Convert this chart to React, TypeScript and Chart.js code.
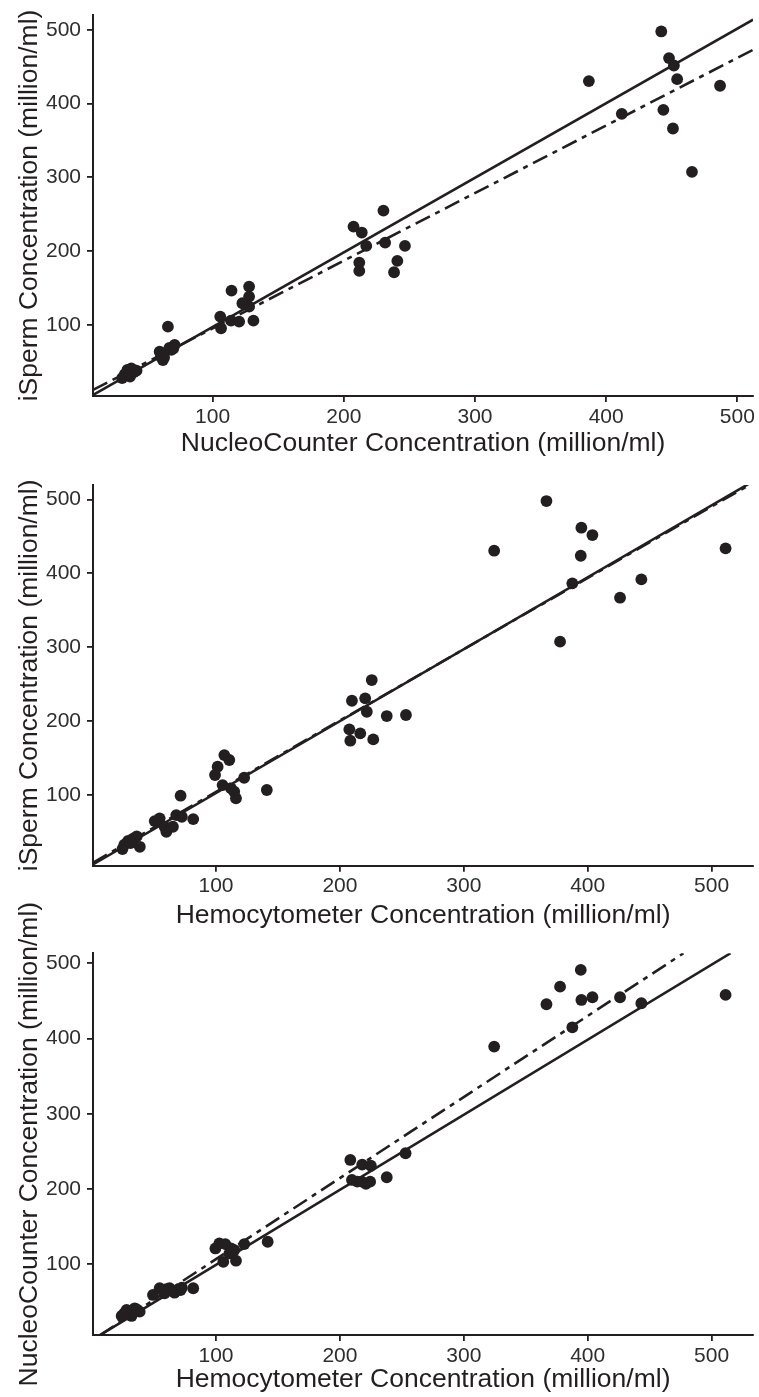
import React, { useEffect, useRef } from "react";
import { Chart, registerables } from "chart.js";

Chart.register(...registerables);

// ---------- Panel 1: NucleoCounter (x) vs iSperm (y) ----------
const p1NucleoCounter = [
  31, 33, 35, 38, 40, 42, 37,
  59.6, 60.5, 62.1, 63, 65.9, 67, 68.5, 70, 71,
  114.4, 127.8, 127.8, 122.7, 127.8, 105.8, 106.4, 114, 120.2, 131.1,
  230.2, 207.4, 213.7, 217.1, 231.5, 246.6, 211.8, 211.8, 240.8, 238.3,
  386.8, 411.9, 442, 447.9, 451.6, 454.1, 443.6, 450.9, 465.4, 486.8,
];
const p1ISperm = [
  28, 33, 39, 41, 36, 38, 30,
  63.8, 57, 52.5, 56, 97.7, 69, 66.1, 68, 72.9,
  146.6, 152, 138.4, 129.4, 124.8, 111.3, 95.5, 105.8, 104.5, 105.8,
  255, 233.3, 225.2, 207.1, 211.6, 207.1, 184.5, 173.2, 186.8, 171.4,
  430.4, 386.1, 497.7, 461.6, 451.6, 433.1, 391.5, 366.2, 307.5, 424.1,
];

// ---------- Panel 2: Hemocytometer (x) vs iSperm (y) ----------
const p2Hemocytometer = [
  24.5, 26, 29, 33, 36, 38.5, 31,
  50.5, 54.5, 58.5, 59.9, 65.2, 67.9, 71.4, 72.4, 81.6,
  106.7, 110.7, 101.3, 99.2, 122.7, 105.3, 112.1, 114.7, 116.1, 141,
  225.7, 209.7, 220.4, 221.7, 237.8, 253.3, 207.6, 216.4, 208.4, 226.9,
  324.5, 366.7, 394.9, 403.8, 394.4, 387.6, 377.7, 426.1, 443.3, 511.3,
];
const p2ISperm = [
  27, 33, 38, 41, 44, 30, 35,
  64.8, 68.5, 57.1, 50.3, 57.1, 72.9, 99.1, 70.6, 67.5,
  154.1, 147.4, 138.3, 127.1, 123.4, 113.5, 109.1, 104.5, 95.5, 106.8,
  255.6, 227.6, 230.8, 212.7, 206.9, 208.3, 188.9, 183.5, 173.5, 175.3,
  430.6, 497.8, 461.7, 451.8, 423.8, 386.5, 307.5, 367, 391.9, 433.8,
];

// ---------- Panel 3: Hemocytometer (x) vs NucleoCounter (y) ----------
const p3Hemocytometer = [
  23.8, 27.8, 34.4, 38.4, 31.8, 26, 36,
  49.1, 54.5, 58.5, 60, 62.5, 66.5, 71.4, 72.4, 81.6,
  99.5, 102.7, 107.5, 105.9, 110.8, 112.1, 114.8, 116.1, 122.8, 141.7,
  208.4, 218, 225, 209.7, 214, 217.7, 221, 224.4, 237.8, 253,
  324.5, 366.7, 377.7, 394.4, 394.9, 403.8, 387.6, 426.1, 443.3, 511.3,
];
const p3NucleoCounter = [
  31.4, 39.3, 41.6, 37.1, 31.4, 35, 40,
  59.3, 68.2, 61.5, 67, 68.2, 62.3, 65.9, 69, 68.2,
  121.1, 127.8, 126.9, 103.4, 114.5, 121.3, 119, 104.8, 126.9, 130,
  238.7, 232.5, 231, 212.1, 210, 209.8, 207, 209.8, 215.7, 247.6,
  389.3, 445.6, 469, 491.2, 451.3, 454.9, 415, 454.9, 446.9, 458,
];

// ---------- Fitted lines (end points) ----------
const p1SolidX = [8.8, 512];
const p1SolidY = [5.1, 513.6];
const p1DashX = [8.8, 512];
const p1DashY = [11.9, 472.9];

const p2SolidX = [0.7, 529.5];
const p2SolidY = [6.1, 520.6];
const p2DashX = [0.7, 533.5];
const p2DashY = [8.5, 522.6];

const p3SolidX = [3.9, 515.3];
const p3SolidY = [3.5, 513.4];
const p3DashX = [6.5, 477.3];
const p3DashY = [6.1, 513.4];

// ---------- Axes ----------
const tickValues = [100, 200, 300, 400, 500];
const p1XRange = [8.8, 512];
const p1YRange = [3.7, 520];
const p2XRange = [0.7, 533.5];
const p2YRange = [4.4, 519.5];
const p3XRange = [0.7, 533.5];
const p3YRange = [6.1, 513.3];

const INK = "#231f20";
const TICK_COLOR = "#2e2e2e";
const FONT = "'Liberation Sans', Arial, Helvetica, sans-serif";

const zip = (xs: number[], ys: number[]) => xs.map((x, i) => ({ x, y: ys[i] }));

type PanelSpec = {
  top: number;
  height: number;
  plotTop: number;
  plotBottom: number;
  titlePadBottom: number;
  xTitle: string;
  yTitle: string;
  xs: number[];
  ys: number[];
  solidX: number[];
  solidY: number[];
  dashX: number[];
  dashY: number[];
  xRange: number[];
  yRange: number[];
};

const panels: PanelSpec[] = [
  {
    top: 0, height: 460, plotTop: 15, plotBottom: 396, titlePadBottom: 0,
    xTitle: "NucleoCounter Concentration (million/ml)",
    yTitle: "iSperm Concentration (million/ml)",
    xs: p1NucleoCounter, ys: p1ISperm,
    solidX: p1SolidX, solidY: p1SolidY, dashX: p1DashX, dashY: p1DashY,
    xRange: p1XRange, yRange: p1YRange,
  },
  {
    top: 460, height: 472, plotTop: 25, plotBottom: 405.7, titlePadBottom: 0,
    xTitle: "Hemocytometer Concentration (million/ml)",
    yTitle: "iSperm Concentration (million/ml)",
    xs: p2Hemocytometer, ys: p2ISperm,
    solidX: p2SolidX, solidY: p2SolidY, dashX: p2DashX, dashY: p2DashY,
    xRange: p2XRange, yRange: p2YRange,
  },
  {
    top: 880, height: 517, plotTop: 73.3, plotBottom: 455, titlePadBottom: 1,
    xTitle: "Hemocytometer Concentration (million/ml)",
    yTitle: "NucleoCounter Concentration (million/ml)",
    xs: p3Hemocytometer, ys: p3NucleoCounter,
    solidX: p3SolidX, solidY: p3SolidY, dashX: p3DashX, dashY: p3DashY,
    xRange: p3XRange, yRange: p3YRange,
  },
];

function Panel({ spec }: { spec: PanelSpec }) {
  const ref = useRef<HTMLCanvasElement | null>(null);
  useEffect(() => {
    if (!ref.current) return;
    const xBoxH = spec.height - spec.plotBottom;
    const chart = new Chart(ref.current, {
      type: "scatter",
      data: {
        datasets: [
          {
            data: zip(spec.xs, spec.ys),
            backgroundColor: INK,
            borderColor: INK,
            borderWidth: 0,
            pointRadius: 5.9,
            pointHoverRadius: 5.9,
          },
          {
            data: zip(spec.solidX, spec.solidY),
            showLine: true,
            borderColor: INK,
            borderWidth: 2.6,
            pointRadius: 0,
            fill: false,
          },
          {
            data: zip(spec.dashX, spec.dashY),
            showLine: true,
            borderColor: INK,
            borderWidth: 2.6,
            borderDash: [16, 6, 5, 6],
            pointRadius: 0,
            fill: false,
          },
        ],
      } as any,
      options: {
        responsive: false,
        animation: false,
        events: [],
        layout: { padding: { top: spec.plotTop, right: 2.3, left: 0, bottom: 0 } },
        plugins: { legend: { display: false }, tooltip: { enabled: false } },
        scales: {
          x: {
            type: "linear",
            position: "bottom",
            min: spec.xRange[0],
            max: spec.xRange[1],
            afterBuildTicks: (s: any) => {
              s.ticks = tickValues.map((v) => ({ value: v }));
            },
            afterFit: (s: any) => {
              s.height = xBoxH;
              s.paddingLeft = 0;
              s.paddingRight = 0;
            },
            grid: { drawOnChartArea: false, drawTicks: true, tickLength: 6, color: INK, lineWidth: 1.8 },
            border: { display: true, color: INK, width: 2 },
            ticks: { font: { family: FONT, size: 21 }, color: TICK_COLOR, padding: 2.4, maxRotation: 0, autoSkip: false },
            title: {
              display: true,
              text: spec.xTitle,
              font: { family: FONT, size: 26.5 },
              color: INK,
              padding: { top: 0, bottom: spec.titlePadBottom },
            },
          },
          y: {
            type: "linear",
            position: "left",
            min: spec.yRange[0],
            max: spec.yRange[1],
            afterBuildTicks: (s: any) => {
              s.ticks = tickValues.map((v) => ({ value: v }));
            },
            afterFit: (s: any) => {
              s.width = 93;
              s.paddingTop = 0;
              s.paddingBottom = 0;
            },
            grid: { drawOnChartArea: false, drawTicks: true, tickLength: 6, color: INK, lineWidth: 1.8 },
            border: { display: true, color: INK, width: 2 },
            ticks: { font: { family: FONT, size: 21 }, color: TICK_COLOR, padding: 6, autoSkip: false },
            title: {
              display: true,
              text: spec.yTitle,
              font: { family: FONT, size: 26.5 },
              color: INK,
              padding: { top: 14, bottom: 0 },
            },
          },
        },
      } as any,
    });
    return () => chart.destroy();
  }, [spec]);
  return (
    <canvas
      ref={ref}
      width={759}
      height={spec.height}
      style={{ position: "absolute", left: 0, top: spec.top, width: 759, height: spec.height }}
    />
  );
}

export default function App() {
  return (
    <div style={{ position: "absolute", left: 0, top: 0, width: 759, height: 1397, background: "#ffffff" }}>
      {panels.map((p, i) => (
        <Panel key={i} spec={p} />
      ))}
    </div>
  );
}
